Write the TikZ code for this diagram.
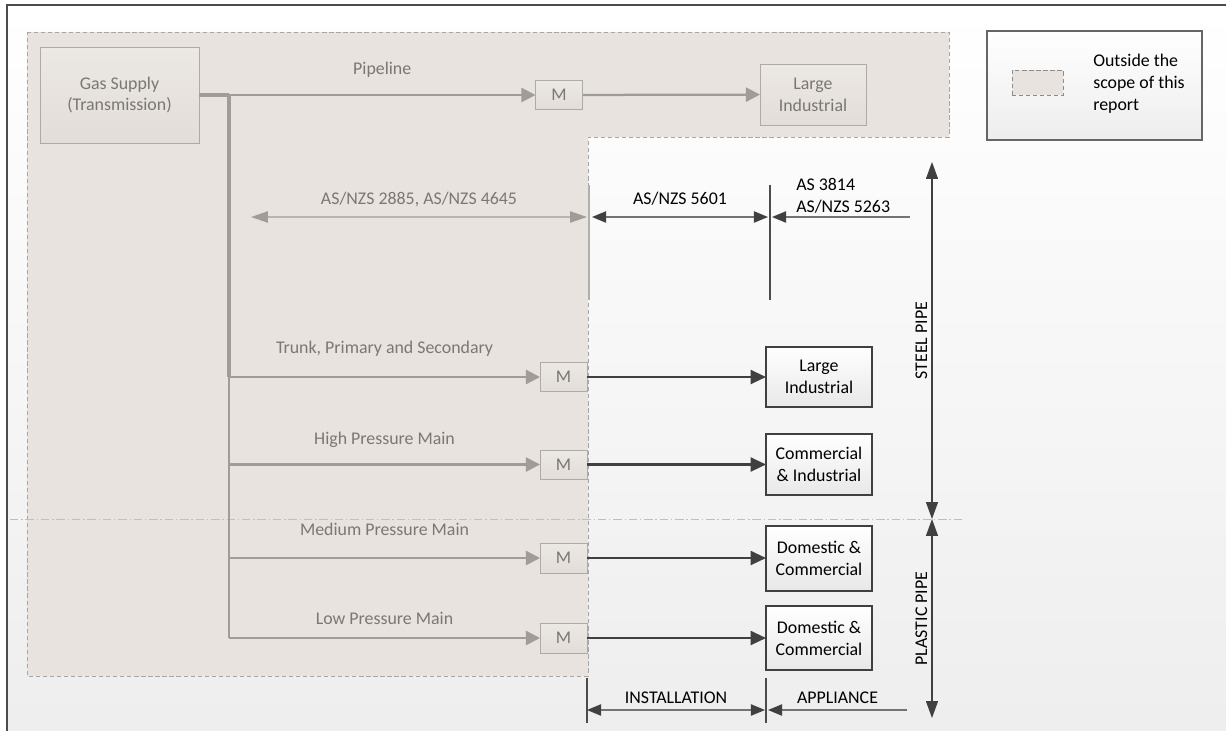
\documentclass[tikz,border=0pt]{standalone}
\usepackage{fontspec}
\setmainfont{Carlito}
\usepackage{tikz}
\usetikzlibrary{arrows.meta}
\usetikzlibrary{calc}
\newlength\px
\setlength\px{0.025cm}
\definecolor{scope}{RGB}{232,227,222}
\definecolor{scopetop}{RGB}{236,232,228}
\definecolor{scopebot}{RGB}{226,221,216}
\definecolor{pipe}{RGB}{160,156,151}
\definecolor{greytext}{RGB}{122,119,116}
\definecolor{dark}{RGB}{64,64,64}
\tikzset{t/.style={font=\fontsize{12.7}{15.5}\selectfont}}
\tikzset{
gbox/.style={t, draw=pipe!85, text=greytext, top color=scopetop, bottom color=scopebot, inner sep=0pt, outer sep=0pt, align=center},
mbox/.style={gbox, minimum width=47\px, minimum height=29\px},
bbox/.style={t, draw=dark, line width=0.8pt, top color=white, bottom color=black!9, inner sep=0pt, outer sep=0pt, align=center, minimum width=106\px},
gtrunk/.style={draw=pipe, line width=2.5pt},
gline/.style={draw=pipe, line width=1.6pt, -{Triangle[length=10pt,width=10pt]}},
bline/.style={draw=dark, line width=1.6pt, -{Triangle[length=11pt,width=10pt]}},
gdim/.style={draw=pipe!75, line width=1pt, {Triangle[length=12pt,width=8pt,color=pipe]}-{Triangle[length=12pt,width=8pt,color=pipe]}},
bdim/.style={draw=black!55, line width=1pt, {Triangle[length=10pt,width=8pt,color=dark]}-{Triangle[length=10pt,width=8pt,color=dark]}},
ldim/.style={draw=black!55, line width=1pt, -{Triangle[length=10pt,width=8pt,color=dark]}},
vdim/.style={draw=dark, line width=0.8pt, {Triangle[length=12pt,width=8.5pt]}-{Triangle[length=12pt,width=8.5pt]}}
}

\begin{document}
\begin{tikzpicture}[x=1\px, y=-1\px]
  \useasboundingbox (0,0) rectangle (1226,731);
  % frame and area outside the scope
  \draw[draw=black!70, line width=0.8pt, top color=white, bottom color=black!7] (7,5) rectangle (1250,760);
  \draw[draw=black!35, line width=0.6pt, dash pattern=on 3pt off 2pt, fill=scope]
    (27,32) -- (949,32) -- (949,137) -- (588,137) -- (588,676) -- (27,676) -- cycle;
  \draw[draw=black!25, line width=0.5pt, dash pattern=on 6pt off 2pt on 1pt off 2pt] (10,519) -- (963,519);

  % legend
  \node[draw=black!60, line width=0.8pt, top color=white, bottom color=black!7, minimum width=215\px, minimum height=109\px, inner sep=0pt] (legend) at (1094.5,85.5) {};
  \node[draw=black!45, line width=0.6pt, dash pattern=on 3pt off 2pt, fill=scope, minimum width=51\px, minimum height=25\px, inner sep=0pt] (key) at (1037.5,82.5) {};
  \node[t, anchor=west, align=left, inner sep=0pt] (keytext) at (1093,84) {Outside the\\scope of this\\report};

  % gas network
  \node[gbox, minimum width=159\px, minimum height=96\px] (gas) at (119.5,95) {Gas Supply\\(Transmission)};
  \node[mbox] (m0) at (559,95) {M};
  \node[gbox, minimum width=106\px, minimum height=61\px] (big0) at (813,94.5) {Large\\Industrial};
  \node[mbox] (m1) at (563.5,377) {M};
  \node[mbox] (m2) at (563.5,464.5) {M};
  \node[mbox, minimum height=30\px] (m3) at (563.5,558) {M};
  \node[mbox, minimum height=30\px] (m4) at (563.5,638) {M};
  \node[bbox, minimum height=60\px] (c1) at (819,377) {Large\\Industrial};
  \node[bbox, minimum height=61\px] (c2) at (819,464.5) {Commercial\\\& Industrial};
  \node[bbox, minimum height=65\px] (c3) at (819,558.5) {Domestic \&\\Commercial};
  \node[bbox, minimum height=64\px] (c4) at (819,638) {Domestic \&\\Commercial};

  \coordinate (j0) at (229,95);
  \coordinate (j1) at (229,377);
  \coordinate (j2) at (229,464.5);
  \coordinate (j3) at (229,558);
  \coordinate (j4) at (229,638);

  \draw[gtrunk] (gas.east) -- (j0);
  \draw[gtrunk] (j0) -- (j1);
  \draw[draw=pipe, line width=1.8pt] (j1) -- (j4);
  \draw[gline] (j0) -- node [t, text=greytext, midway, yshift=25\px] {Pipeline} (m0);
  \draw[gline] (m0) -- (big0);
  \draw[gline] (j1) -- node [t, text=greytext, midway, yshift=28\px] {Trunk, Primary and Secondary} (m1);
  \draw[gline] (j2) -- node [t, text=greytext, midway, yshift=25\px] {High Pressure Main} (m2);
  \draw[gline] (j3) -- node [t, text=greytext, midway, yshift=29\px] {Medium Pressure Main} (m3);
  \draw[gline] (j4) -- node [t, text=greytext, midway, yshift=20\px] {Low Pressure Main} (m4);
  \draw[bline] (m1.east) -- (m1.east -| c1.west);
  \draw[bline] (m2.east) -- (m2.east -| c2.west);
  \draw[bline] (m3.east) -- (m3.east -| c3.west);
  \draw[bline] (m4.east) -- (m4.east -| c4.west);

  % standards
  \coordinate (A) at (589,185);
  \coordinate (B) at (589,300);
  \coordinate (C) at (770,185);
  \coordinate (D) at (770,300);
  \coordinate (E) at (251,217);
  \coordinate (F) at (587,217);
  \coordinate (G) at (592,217);
  \coordinate (H) at (768,217);
  \coordinate (I) at (910,217);
  \coordinate (J) at (772,217);
  \draw[draw=pipe!80, line width=1.2pt] (A) -- (B);
  \draw[draw=black!70, line width=0.8pt] (C) -- (D);
  \draw[gdim] (E) -- node [t, text=greytext, midway, yshift=18\px] {AS/NZS 2885, AS/NZS 4645} (F);
  \draw[bdim] (G) -- node [t, midway, yshift=18\px] {AS/NZS 5601} (H);
  \draw[ldim] (I) -- (J);
  \node[t, anchor=west, align=left, inner sep=0pt] (std) at (796,196) {AS 3814\\AS/NZS 5263};

  % installation and appliance
  \coordinate (K) at (587,678);
  \coordinate (L) at (587,723);
  \coordinate (M) at (766,678);
  \coordinate (N) at (766,723);
  \coordinate (P) at (587,710);
  \coordinate (Q) at (765,710);
  \coordinate (R) at (907,710);
  \coordinate (S) at (768,710);
  \draw[draw=black!70, line width=0.8pt] (K) -- (L);
  \draw[draw=black!70, line width=0.8pt] (M) -- (N);
  \draw[bdim] (P) -- node [t, midway, yshift=12\px] {INSTALLATION} (Q);
  \draw[ldim] (R) -- node [t, pos=0.5, yshift=12\px] {APPLIANCE} (S);

  % pipe material
  \coordinate (T) at (932,162);
  \coordinate (U) at (932,519);
  \coordinate (V) at (932,718);
  \draw[vdim] (T) -- node [t, midway, rotate=90, anchor=south, inner sep=3pt] {STEEL PIPE} (U);
  \draw[vdim] (U) -- node [t, midway, rotate=90, anchor=south, inner sep=3pt] {PLASTIC PIPE} (V);
\end{tikzpicture}
\end{document}
